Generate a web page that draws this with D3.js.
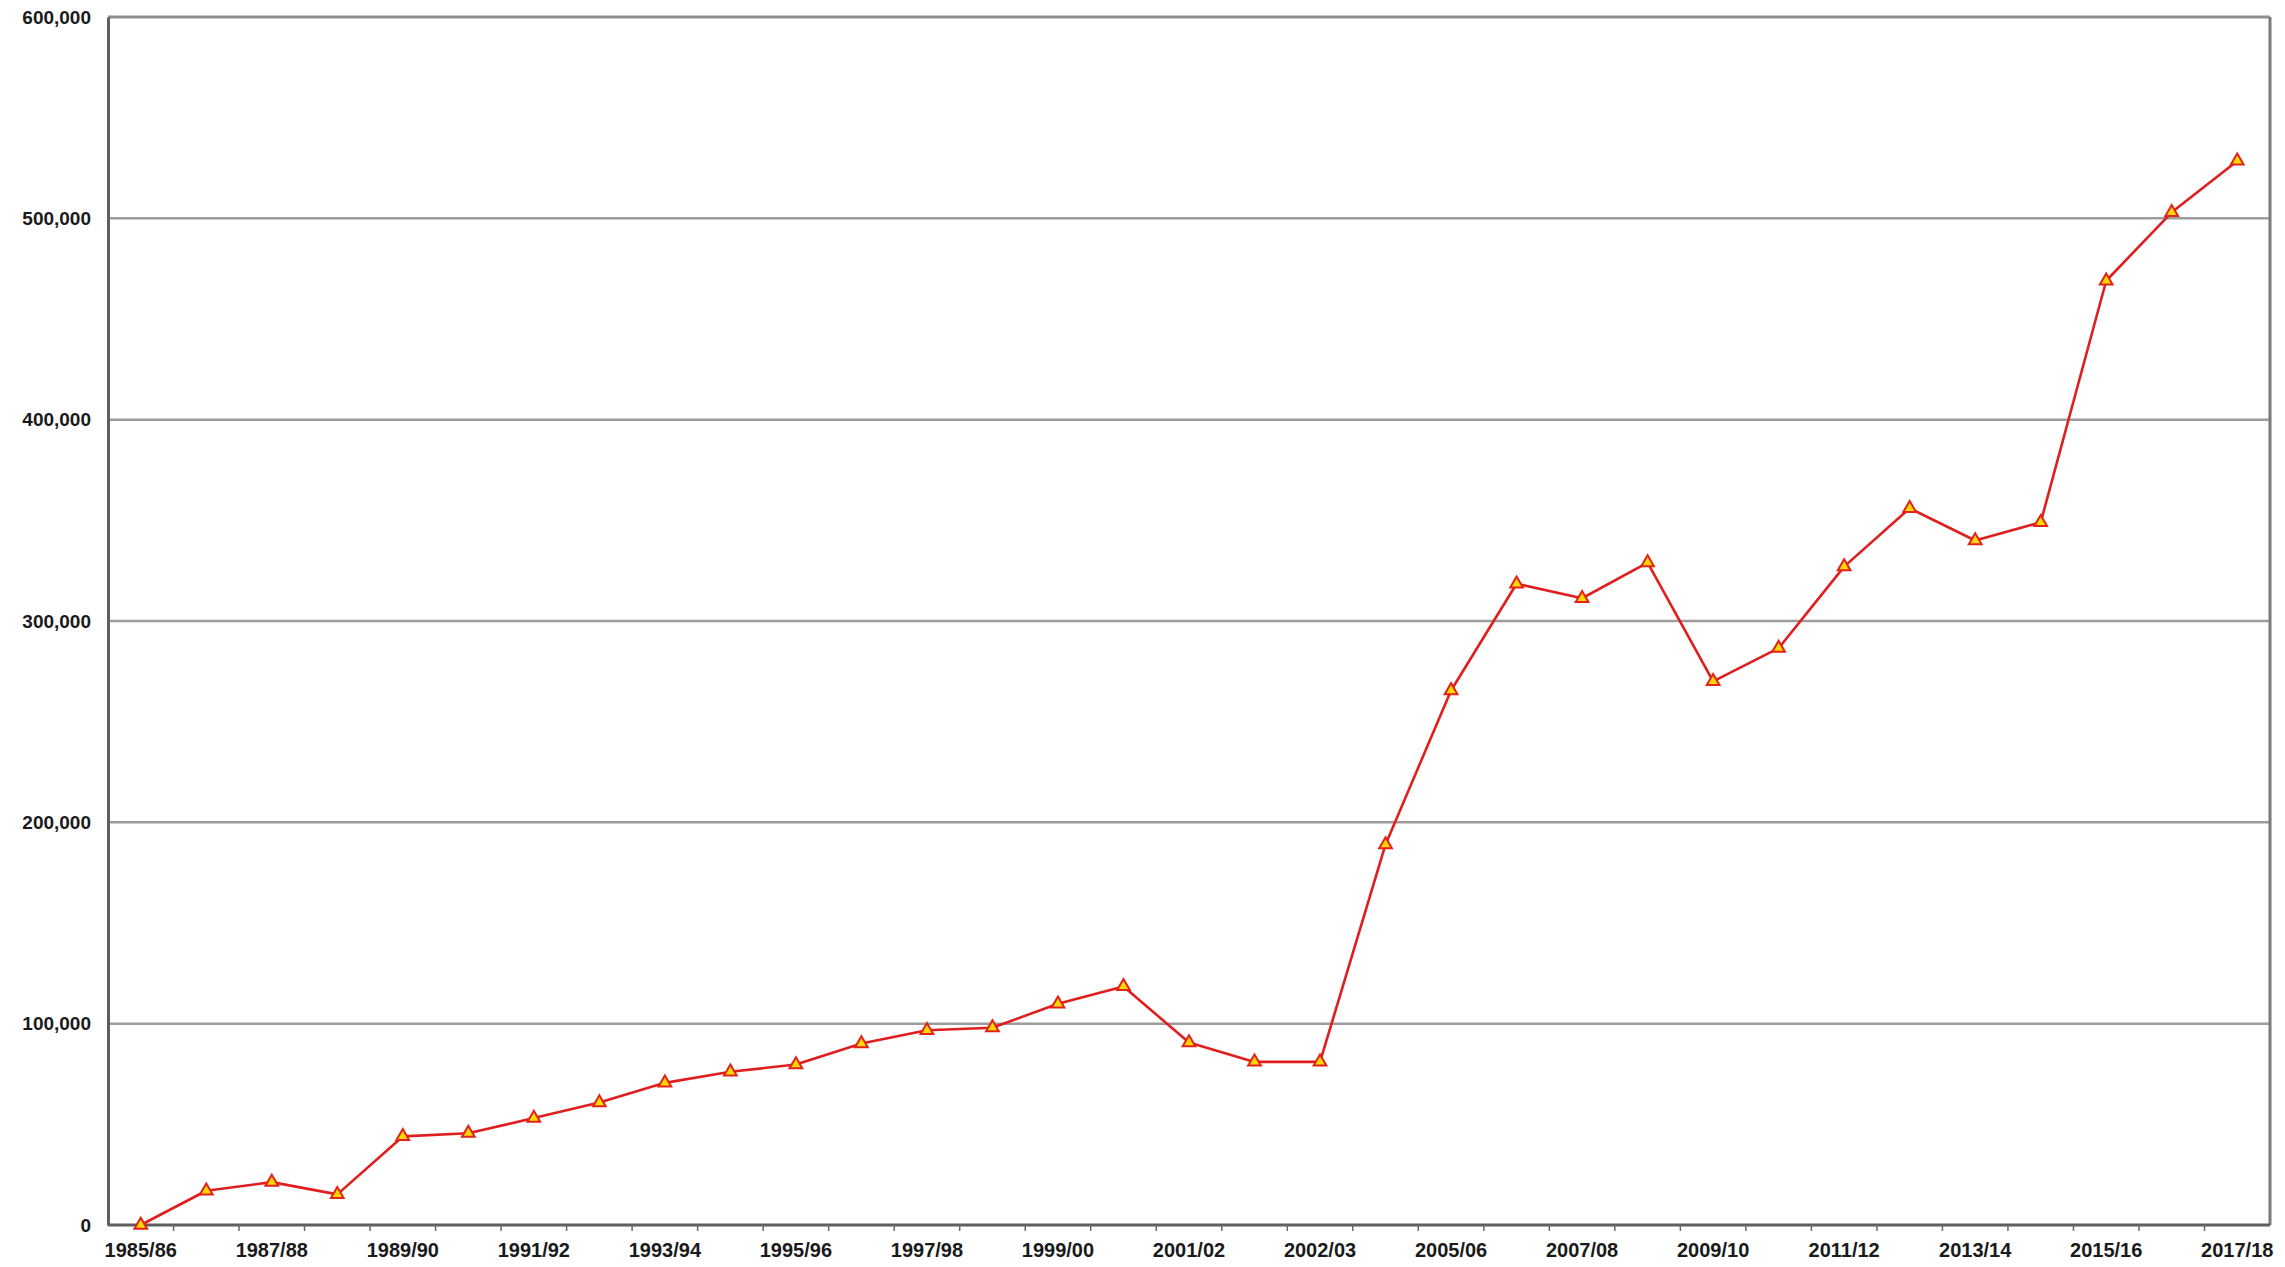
<!DOCTYPE html>
<html>
<head>
<meta charset="utf-8">
<script src="https://cdn.jsdelivr.net/npm/d3@7"></script>
<style>
  html, body { margin: 0; padding: 0; background: #fff; }
  svg { display: block; }
  .tick text { font-family: "Liberation Sans", Arial, sans-serif; font-weight: bold; fill: #1a1a1a; }
</style>
</head>
<body>
<svg id="chart" width="2285" height="1267"></svg>
<script>
// Financial years, one point per year
const years = [
  "1985/86","1986/87","1987/88","1988/89","1989/90","1990/91","1991/92","1992/93",
  "1993/94","1994/95","1995/96","1996/97","1997/98","1998/99","1999/00","2000/01",
  "2001/02","2002/03","2003/04","2004/05","2005/06","2006/07","2007/08","2008/09",
  "2009/10","2010/11","2011/12","2012/13","2013/14","2014/15","2015/16","2016/17",
  "2017/18"
];

// Annual values
const values = [
  0, 17000, 21300, 15200, 44000, 45600, 53100, 60800,
  70600, 76100, 79700, 90100, 96700, 98000, 109900, 118500,
  90600, 81000, 81000, 189000, 265500, 318500, 311300, 329000,
  270000, 286500, 327000, 356000, 340000, 349000, 469000, 503000,
  528500
];

// Labels printed under every second year
const xTickLabels = [
  "1985/86","1987/88","1989/90","1991/92","1993/94","1995/96","1997/98","1999/00",
  "2001/02","2002/03","2005/06","2007/08","2009/10","2011/12","2013/14","2015/16",
  "2017/18"
];

const yTicks = [0, 100000, 200000, 300000, 400000, 500000, 600000];

const svg = d3.select("#chart");
const plot = { left: 108, right: 2270, top: 17, bottom: 1225 };

const x = d3.scaleBand().domain(years).range([plot.left, plot.right]).paddingInner(0).paddingOuter(0);
const y = d3.scaleLinear().domain([0, 600000]).range([plot.bottom, plot.top]);
const cx = d => x(d) + x.bandwidth() / 2;

// Horizontal gridlines
svg.append("g")
  .selectAll("line")
  .data(yTicks.filter(v => v > 0 && v < 600000))
  .join("line")
  .attr("x1", plot.left).attr("x2", plot.right)
  .attr("y1", d => y(d)).attr("y2", d => y(d))
  .attr("stroke", "#9c9c9c")
  .attr("stroke-width", 2.5);

// Plot frame: top and right edges
svg.append("line")
  .attr("x1", plot.left).attr("x2", plot.right).attr("y1", y(600000)).attr("y2", y(600000))
  .attr("stroke", "#8e8e8e").attr("stroke-width", 3);
svg.append("line")
  .attr("x1", plot.right).attr("x2", plot.right).attr("y1", plot.top).attr("y2", plot.bottom)
  .attr("stroke", "#7a7a7a").attr("stroke-width", 3);

// Y axis
const yAxis = d3.axisLeft(y)
  .tickValues(yTicks)
  .tickFormat(d3.format(","))
  .tickSize(0)
  .tickPadding(17);
const gy = svg.append("g").attr("transform", `translate(${plot.left},0)`).call(yAxis);
gy.select(".domain").attr("stroke", "#5f5f5f").attr("stroke-width", 3);
gy.selectAll(".tick text").style("font-size", "19px");

// X axis: small ticks at year boundaries, labels every second year
const gx = svg.append("g").attr("transform", `translate(0,${plot.bottom})`);
gx.append("line")
  .attr("x1", plot.left).attr("x2", plot.right).attr("y1", 0).attr("y2", 0)
  .attr("stroke", "#5f5f5f").attr("stroke-width", 3);
gx.selectAll("line.yt")
  .data(years.slice(1))
  .join("line")
  .attr("class", "yt")
  .attr("x1", d => x(d)).attr("x2", d => x(d))
  .attr("y1", 0).attr("y2", 6)
  .attr("stroke", "#6a6a6a").attr("stroke-width", 1.5);

const labelYears = years.filter((d, i) => i % 2 === 0);
gx.selectAll("text")
  .data(labelYears)
  .join("text")
  .attr("x", d => cx(d))
  .attr("y", 32)
  .attr("text-anchor", "middle")
  .style("font-family", "'Liberation Sans', Arial, sans-serif")
  .style("font-weight", "bold")
  .style("font-size", "20px")
  .attr("fill", "#1a1a1a")
  .text((d, i) => xTickLabels[i]);

// Series line
const line = d3.line()
  .x((d, i) => cx(years[i]))
  .y(d => y(d));
svg.append("path")
  .datum(values)
  .attr("d", line)
  .attr("fill", "none")
  .attr("stroke", "#e01e1e")
  .attr("stroke-width", 2.6)
  .attr("stroke-linejoin", "round");

// Triangle markers
svg.append("g")
  .selectAll("path")
  .data(values)
  .join("path")
  .attr("transform", (d, i) => `translate(${cx(years[i])},${y(d)})`)
  .attr("d", d3.symbol(d3.symbolTriangle, 70))
  .attr("fill", "#ffd800")
  .attr("stroke", "#e2231a")
  .attr("stroke-width", 2);
</script>
</body>
</html>
